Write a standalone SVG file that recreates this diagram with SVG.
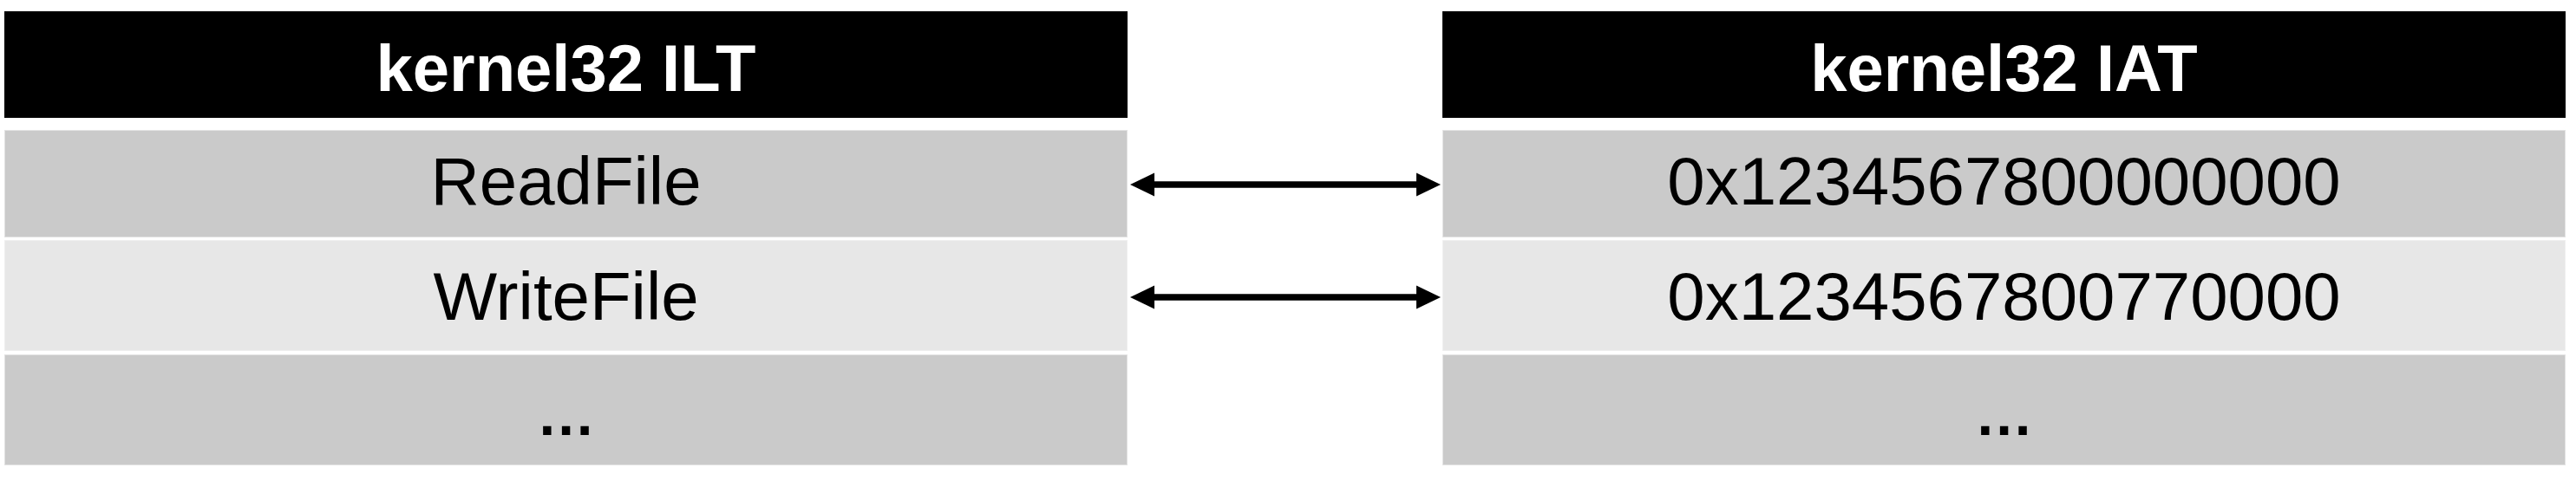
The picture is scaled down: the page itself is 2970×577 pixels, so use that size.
<svg xmlns="http://www.w3.org/2000/svg" width="2970" height="577" viewBox="0 0 2970 577">
<style>
.hdr{fill:#000000}
.r1{fill:#cacaca;stroke:#e2e2e2;stroke-width:1}
.r2{fill:#e7e7e7;stroke:#efefef;stroke-width:1}
.ht{font-family:"Liberation Sans",Arial,sans-serif;font-weight:bold;font-size:76px;fill:#ffffff;text-anchor:middle}
.ct{font-family:"Liberation Sans",Arial,sans-serif;font-size:78px;fill:#000000;text-anchor:middle}
.dots{stroke:#000000;stroke-width:2}
.conn{stroke:#000000;stroke-width:7.5;fill:none}
.head{fill:#000000}
</style>
<rect width="2970" height="577" fill="#ffffff"/>
<g id="ilt">
  <g id="ilt-header">
    <rect class="hdr" x="5" y="13" width="1295" height="123"/>
    <text class="ht" x="652.5" y="105">kernel32 ILT</text>
  </g>
  <g id="ilt-readfile">
    <rect class="r1" x="5.5" y="150.5" width="1294" height="123"/>
    <text class="ct" x="652.5" y="236">ReadFile</text>
  </g>
  <g id="ilt-writefile">
    <rect class="r2" x="5.5" y="277.5" width="1294" height="127"/>
    <text class="ct" x="652.5" y="369">WriteFile</text>
  </g>
  <g id="ilt-more">
    <rect class="r1" x="5.5" y="409.5" width="1294" height="127"/>
    <text class="ct dots" x="652.5" y="501">...</text>
  </g>
</g>
<g id="iat">
  <g id="iat-header">
    <rect class="hdr" x="1663" y="13" width="1295" height="123"/>
    <text class="ht" x="2310.5" y="105">kernel32 IAT</text>
  </g>
  <g id="iat-readfile">
    <rect class="r1" x="1663.5" y="150.5" width="1294" height="123"/>
    <text class="ct" x="2310.5" y="236">0x1234567800000000</text>
  </g>
  <g id="iat-writefile">
    <rect class="r2" x="1663.5" y="277.5" width="1294" height="127"/>
    <text class="ct" x="2310.5" y="369">0x1234567800770000</text>
  </g>
  <g id="iat-more">
    <rect class="r1" x="1663.5" y="409.5" width="1294" height="127"/>
    <text class="ct dots" x="2310.5" y="501">...</text>
  </g>
</g>
<g id="connectors">
  <g id="conn-readfile">
    <line class="conn" x1="1328" y1="213" x2="1636" y2="213"/>
    <polygon class="head" points="1303,213 1331,199.5 1331,226.5"/>
    <polygon class="head" points="1661,213 1633,199.5 1633,226.5"/>
  </g>
  <g id="conn-writefile">
    <line class="conn" x1="1328" y1="343" x2="1636" y2="343"/>
    <polygon class="head" points="1303,343 1331,329.5 1331,356.5"/>
    <polygon class="head" points="1661,343 1633,329.5 1633,356.5"/>
  </g>
</g>
</svg>
